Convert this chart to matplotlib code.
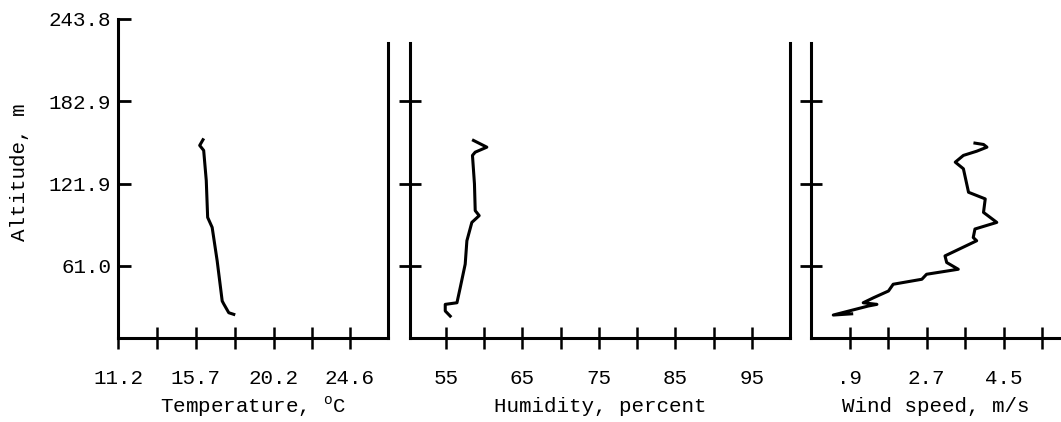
import numpy as np
import matplotlib.pyplot as plt

plt.rcParams['font.family'] = ['Liberation Mono', 'DejaVu Sans']
plt.rcParams['mathtext.fontset'] = 'custom'
plt.rcParams['mathtext.rm'] = 'Liberation Mono'

# profiles (altitude in m)
temp = [16.11, 15.92, 16.15, 16.30, 16.38, 16.64, 16.93, 17.22, 17.31, 17.60, 17.89]
temp_alt = [154.4, 150.2, 146.5, 124.2, 96.9, 89.5, 64.7, 35.0, 32.8, 26.3, 25.1]

hum = [58.60, 60.35, 58.83, 58.47, 58.73, 58.83, 59.35, 58.39, 57.74, 57.52,
       56.87, 56.44, 54.91, 54.91, 55.56]
hum_alt = [153.9, 148.9, 145.2, 142.8, 121.7, 101.9, 98.2, 93.2, 79.6, 62.3,
           44.9, 33.7, 32.5, 27.6, 23.8]

wind = [3.83, 4.03, 4.11, 3.87, 3.56, 3.37, 3.56, 3.68, 4.07, 4.03, 4.34, 3.83,
        3.79, 3.87, 3.13, 3.17, 3.44, 2.70, 2.59, 1.92, 1.81, 1.46, 1.22, 1.54,
        1.34, 0.52, 0.95]
wind_alt = [151.9, 150.9, 148.9, 145.9, 142.8, 137.8, 132.9, 115.5, 110.6, 100.6,
            93.2, 88.3, 82.0, 79.6, 68.4, 63.5, 58.5, 54.8, 51.1, 47.4, 42.4,
            37.4, 33.7, 32.5, 31.3, 24.6, 25.5]

alt_ticks = [61.0, 121.9, 182.9, 243.8]
alt_labels = ['61.0', '121.9', '182.9', '243.8']
temp_ticks = [11.2, 15.7, 20.2, 24.6]
temp_minor = [13.45, 17.95, 22.4]
hum_ticks = [55, 65, 75, 85, 95]
hum_minor = [60, 70, 80, 90]
wind_ticks = [0.9, 2.7, 4.5]
wind_labels = ['.9', '2.7', '4.5']
wind_minor = [1.8, 3.6, 5.4]

ybot, ytop, frame_top = 7.6, 243.8, 226.0
lw = 2.2

fig = plt.figure(figsize=(10.61, 4.22), dpi=100)
ax1 = fig.add_axes([118/1061, 84/422, 270/1061, 319/422])
ax2 = fig.add_axes([410/1061, 84/422, 380/1061, 319/422])
ax3 = fig.add_axes([811/1061, 84/422, 250/1061, 319/422])

for ax in (ax1, ax2, ax3):
    ax.set_ylim(ybot, ytop)
    ax.spines['top'].set_visible(False)
    for s in ax.spines.values():
        s.set_linewidth(lw)
    ax.tick_params(axis='x', which='both', direction='inout', length=16, width=1.8,
                   labelsize=15, pad=14)
    ax.patch.set_alpha(0)

# temperature
ax1.plot(temp, temp_alt, color='black', lw=lw, solid_joinstyle='round')
ax1.set_xlim(11.2, 26.8)
ax1.set_xticks(temp_ticks)
ax1.set_xticks(temp_minor, minor=True)
ax1.set_yticks(alt_ticks)
ax1.set_yticklabels(alt_labels)
ax1.tick_params(axis='y', direction='in', length=9, width=2, labelsize=15, pad=5)
ax1.spines['right'].set_bounds(ybot, frame_top)
ax1.set_xlabel(r'Temperature, $^{\mathregular{o}}$C', fontsize=15, labelpad=5)

# humidity
ax2.plot(hum, hum_alt, color='black', lw=lw, solid_joinstyle='round')
ax2.set_xlim(50.3, 100)
ax2.set_xticks(hum_ticks)
ax2.set_xticks(hum_minor, minor=True)
ax2.set_yticks(alt_ticks[:3])
ax2.tick_params(axis='y', direction='inout', length=16, width=2, labelleft=False)
ax2.spines['left'].set_bounds(ybot, frame_top)
ax2.spines['right'].set_bounds(ybot, frame_top)
ax2.set_xlabel('Humidity, percent', fontsize=15, labelpad=7)

# wind speed
ax3.plot(wind, wind_alt, color='black', lw=lw, solid_joinstyle='round')
ax3.set_xlim(0, 5.84)
ax3.set_xticks(wind_ticks)
ax3.set_xticklabels(wind_labels)
ax3.set_xticks(wind_minor, minor=True)
ax3.set_yticks(alt_ticks[:3])
ax3.tick_params(axis='y', direction='inout', length=16, width=2, labelleft=False)
ax3.spines['left'].set_bounds(ybot, frame_top)
ax3.spines['right'].set_visible(False)
ax3.set_xlabel('Wind speed, m/s', fontsize=15, labelpad=7)

fig.text(20/1061, 1 - 172/422, 'Altitude, m', rotation=90, ha='center', va='center',
         fontsize=15)

fig.savefig('out.png', dpi=100)
